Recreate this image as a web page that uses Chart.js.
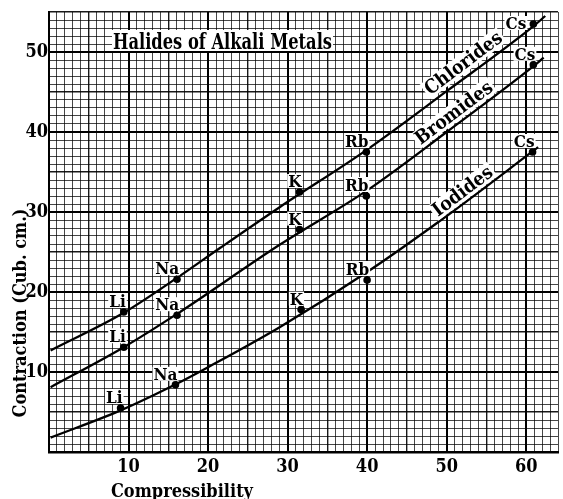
<!DOCTYPE html>
<html>
<head>
<meta charset="utf-8">
<script src="https://cdn.jsdelivr.net/npm/chart.js@4.4.1/dist/chart.umd.min.js"></script>
<style>
  html, body { margin: 0; padding: 0; background: #fff; }
  #wrap { width: 563px; height: 499px; }
</style>
</head>
<body>
<div id="wrap"><canvas id="halides"></canvas></div>
<script>
// values
const metals = ["Li", "Na", "K", "Rb", "Cs"];
const chlorideX = [9.4, 16.1, 31.5, 39.9, 60.9];
const chlorideY = [17.5, 21.6, 32.5, 37.5, 53.5];
const bromideX = [9.4, 16.1, 31.5, 39.9, 60.9];
const bromideY = [13.1, 17.1, 27.8, 32.0, 48.4];
const iodideX = [9.0, 15.9, 31.7, 40.0, 60.8];
const iodideY = [5.5, 8.4, 17.8, 21.5, 37.5];

// the hand drawn curves
const chlorideCurveX = [0.2, 9.4, 16, 21.5, 29, 40, 50, 61, 62.4];
const chlorideCurveY = [12.7, 17.4, 21.7, 25.5, 30.6, 37.8, 45.1, 53.3, 54.5];
const bromideCurveX = [0.2, 9.4, 16, 29, 40, 50, 61, 62.2];
const bromideCurveY = [8.1, 13.1, 17.2, 25.9, 32.7, 40.0, 48.3, 49.3];
const iodideCurveX = [0.2, 9, 16, 20, 29, 40, 50, 61.5];
const iodideCurveY = [1.8, 5.2, 8.5, 10.6, 15.6, 22.5, 29.5, 38.1];

const curveNames = ["Chlorides", "Bromides", "Iodides"];
const xTicks = [10, 20, 30, 40, 50, 60];
const yTicks = [10, 20, 30, 40, 50];

const SERIF = '"DejaVu Serif Condensed", "DejaVu Serif", serif';

function pts(xs, ys) {
  return xs.map((x, i) => ({ x: x, y: ys[i] }));
}

function curve(xs, ys) {
  return {
    data: pts(xs, ys),
    showLine: true,
    borderColor: "#000",
    borderWidth: 2.3,
    pointRadius: 0,
    cubicInterpolationMode: "monotone"
  };
}

function marks(xs, ys) {
  return {
    data: pts(xs, ys),
    showLine: false,
    pointRadius: 3.8,
    pointBackgroundColor: "#000",
    pointBorderWidth: 0
  };
}

function gridColor(c) {
  const v = c.tick ? c.tick.value : 0;
  if (v % 10 === 0) return "#000";
  if (v % 5 === 0) return "rgba(0,0,0,0.9)";
  return "rgba(0,0,0,0.72)";
}
function gridWidth(c) {
  const v = c.tick ? c.tick.value : 0;
  if (v % 10 === 0) return 2;
  if (v % 5 === 0) return 1.4;
  return 1;
}

function whiteText(ctx, text, x, y, pad) {
  const m = ctx.measureText(text);
  const w = m.width;
  const asc = m.actualBoundingBoxAscent, desc = m.actualBoundingBoxDescent;
  let left = x;
  if (ctx.textAlign === "right") left = x - w;
  if (ctx.textAlign === "center") left = x - w / 2;
  ctx.fillStyle = "#fff";
  ctx.fillRect(left - pad, y - asc - pad, w + pad * 2, asc + desc + pad * 2);
  ctx.fillStyle = "#000";
  ctx.fillText(text, x, y);
}

const labelPlugin = {
  id: "labels",
  afterDatasetsDraw(chart) {
    const ctx = chart.ctx;
    const xs = chart.scales.x, ys = chart.scales.y;
    ctx.save();

    // title box
    ctx.font = "bold 22px " + SERIF;
    ctx.textAlign = "left";
    ctx.textBaseline = "alphabetic";
    ctx.fillStyle = "#fff";
    ctx.fillRect(112, 30, 221, 21);
    ctx.fillStyle = "#000";
    const title = "Halides of Alkali Metals";
    const tw = ctx.measureText(title).width;
    ctx.save();
    ctx.translate(113, 49);
    ctx.scale(219 / tw, 1);
    ctx.fillText(title, 0, 0);
    ctx.restore();

    // curve names, along the lines
    const namePos = [[52.1, 48.6], [50.9, 42.4], [52.0, 32.6]];
    ctx.font = "bold 19px " + SERIF;
    ctx.textAlign = "center";
    ctx.textBaseline = "middle";
    namePos.forEach((p, i) => {
      const px = xs.getPixelForValue(p[0]);
      const py = ys.getPixelForValue(p[1]);
      const w = ctx.measureText(curveNames[i]).width;
      ctx.save();
      ctx.translate(px, py);
      ctx.rotate(-37 * Math.PI / 180);
      ctx.fillStyle = "#fff";
      ctx.fillRect(-w / 2 - 2, -9, w + 4, 18);
      ctx.fillStyle = "#000";
      ctx.fillText(curveNames[i], 0, 1);
      ctx.restore();
    });

    // metal labels beside each point
    ctx.font = "bold 17px " + SERIF;
    ctx.textBaseline = "alphabetic";
    ctx.textAlign = "right";
    [3, 4, 5].forEach((di, k) => {
      const meta = chart.getDatasetMeta(di);
      meta.data.forEach((el, i) => {
        let dx = 2, dy = -5;
        if (k === 0 && i === 4) { dx = -7; dy = 5; }
        whiteText(ctx, metals[i], el.x + dx, el.y + dy, 1);
      });
    });
    ctx.restore();
  },
  afterDraw(chart) {
    const ctx = chart.ctx;
    ctx.save();
    ctx.fillStyle = "#000";
    ctx.font = "bold 18px " + SERIF;
    ctx.textBaseline = "alphabetic";
    ctx.textAlign = "center";
    ctx.fillText("Compressibility", 182, 497);
    ctx.translate(26, 313);
    ctx.rotate(-Math.PI / 2);
    ctx.fillText("Contraction (Cub. cm.)", 0, 0);
    ctx.restore();
  }
};

new Chart(document.getElementById("halides"), {
  type: "scatter",
  data: {
    datasets: [
      curve(chlorideCurveX, chlorideCurveY),
      curve(bromideCurveX, bromideCurveY),
      curve(iodideCurveX, iodideCurveY),
      marks(chlorideX, chlorideY),
      marks(bromideX, bromideY),
      marks(iodideX, iodideY)
    ]
  },
  options: {
    responsive: true,
    maintainAspectRatio: false,
    animation: false,
    layout: { padding: { top: 12, right: 3, left: 0, bottom: 0 } },
    plugins: { legend: { display: false }, tooltip: { enabled: false } },
    scales: {
      x: {
        min: 0, max: 64,
        afterFit: s => { s.height = 47; },
        border: { color: "#000", width: 2.5 },
        grid: { color: gridColor, lineWidth: gridWidth, drawTicks: false },
        ticks: {
          stepSize: 1, autoSkip: false, maxTicksLimit: 100,
          maxRotation: 0, minRotation: 0, padding: 5,
          color: "#000",
          font: { family: SERIF, size: 18, weight: "bold" },
          callback: v => xTicks.includes(v) ? String(v) : ""
        }
      },
      y: {
        min: 0, max: 55,
        afterFit: s => { s.width = 49; },
        border: { color: "#000", width: 2 },
        grid: { color: gridColor, lineWidth: gridWidth, drawTicks: false },
        ticks: {
          stepSize: 1, autoSkip: false, maxTicksLimit: 100,
          padding: 1,
          color: "#000",
          font: { family: SERIF, size: 18, weight: "bold" },
          callback: v => yTicks.includes(v) ? String(v) : ""
        }
      }
    }
  },
  plugins: [labelPlugin]
});
</script>
</body>
</html>
